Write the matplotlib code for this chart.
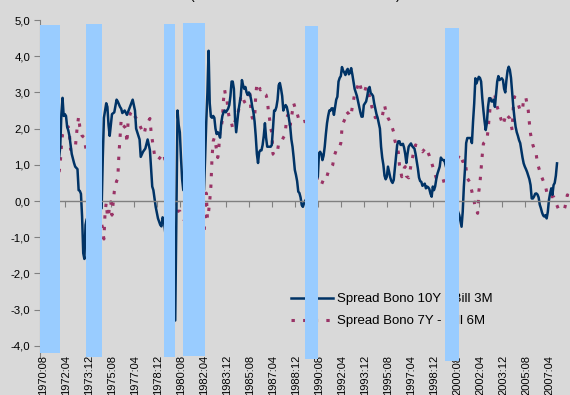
import matplotlib
matplotlib.use("Agg")
import matplotlib.pyplot as plt

plt.rcParams['font.family'] = ['Liberation Sans', 'DejaVu Sans']

# ---------------------------------------------------------------- data
# Spread Bono 10Y - Bill 3M (monthly, percentage points)
spread_10y_3m = [
    ("1971-10", 1.2), ("1971-11", 1.5), ("1971-12", 2.4), ("1972-01", 2.85), ("1972-02", 2.35),
    ("1972-03", 2.4), ("1972-04", 2.35), ("1972-05", 2.05), ("1972-06", 1.95), ("1972-07", 1.8),
    ("1972-09", 1.3), ("1972-11", 1.05), ("1972-12", 0.95), ("1973-02", 0.88), ("1973-03", 0.3),
    ("1973-04", 0.28), ("1973-05", 0.2), ("1973-06", -0.43), ("1973-07", -1.44), ("1973-08", -1.6),
    ("1973-09", -0.66), ("1973-10", -0.5),
    ("1974-11", -0.2), ("1974-12", 1.2), ("1975-01", 2.3), ("1975-02", 2.5), ("1975-03", 2.7),
    ("1975-04", 2.6), ("1975-05", 2.1), ("1975-06", 1.8), ("1975-07", 2.1), ("1975-08", 2.4),
    ("1975-10", 2.45), ("1975-12", 2.8), ("1976-01", 2.75), ("1976-03", 2.6), ("1976-04", 2.55),
    ("1976-05", 2.43), ("1976-07", 2.5), ("1976-09", 2.38), ("1976-11", 2.55), ("1977-02", 2.8),
    ("1977-04", 2.5), ("1977-05", 2.0), ("1977-08", 1.7), ("1977-09", 1.22), ("1977-11", 1.36),
    ("1978-01", 1.45), ("1978-03", 1.7), ("1978-05", 1.4), ("1978-07", 0.4), ("1978-08", 0.3),
    ("1978-10", -0.16), ("1978-12", -0.48), ("1979-02", -0.66), ("1979-03", -0.7), ("1979-04", -0.45),
    ("1979-05", -0.5),
    ("1980-03", -3.3), ("1980-04", -0.4), ("1980-05", 2.5), ("1980-06", 2.1), ("1980-07", 1.9),
    ("1980-08", 1.2), ("1980-09", 0.6), ("1980-10", 0.3),
    ("1982-04", 0.3), ("1982-05", 1.2), ("1982-06", 2.2), ("1982-07", 3.0), ("1982-08", 4.15),
    ("1982-09", 2.7), ("1982-10", 2.33), ("1982-11", 2.3), ("1982-12", 2.35), ("1983-01", 2.3),
    ("1983-02", 2.0), ("1983-03", 1.85), ("1983-04", 1.9), ("1983-05", 1.85), ("1983-06", 1.75),
    ("1983-07", 2.15), ("1983-08", 2.35), ("1983-09", 2.45), ("1983-10", 2.5), ("1983-11", 2.45),
    ("1983-12", 2.5), ("1984-01", 2.55), ("1984-02", 2.65), ("1984-03", 2.9), ("1984-04", 3.3),
    ("1984-05", 3.3), ("1984-06", 3.1), ("1984-07", 2.3), ("1984-08", 1.9), ("1984-09", 2.2),
    ("1984-10", 2.5), ("1984-11", 2.7), ("1984-12", 2.9), ("1985-01", 3.34), ("1985-02", 3.2),
    ("1985-03", 3.1), ("1985-04", 3.15), ("1985-05", 3.0), ("1985-06", 2.93), ("1985-07", 3.0),
    ("1985-08", 2.95), ("1985-09", 2.8), ("1985-10", 2.6), ("1985-11", 2.45), ("1985-12", 2.2),
    ("1986-01", 1.8), ("1986-02", 1.3), ("1986-03", 1.05), ("1986-04", 1.35), ("1986-05", 1.4),
    ("1986-06", 1.4), ("1986-07", 1.55), ("1986-08", 1.8), ("1986-09", 2.15), ("1986-10", 1.75),
    ("1986-11", 1.5), ("1986-12", 1.5), ("1987-01", 1.5), ("1987-02", 1.5), ("1987-03", 1.55),
    ("1987-04", 2.0), ("1987-05", 2.5), ("1987-06", 2.5), ("1987-07", 2.6), ("1987-08", 2.8),
    ("1987-09", 3.2), ("1987-10", 3.26), ("1987-11", 3.1), ("1987-12", 2.9), ("1988-01", 2.5),
    ("1988-02", 2.6), ("1988-03", 2.65), ("1988-04", 2.6), ("1988-05", 2.45), ("1988-06", 2.25),
    ("1988-07", 2.05), ("1988-08", 1.7), ("1988-09", 1.5), ("1988-10", 1.2), ("1988-11", 0.86),
    ("1988-12", 0.72), ("1989-01", 0.55), ("1989-02", 0.26), ("1989-03", 0.22), ("1989-04", 0.1),
    ("1989-05", -0.11), ("1989-06", -0.16), ("1989-07", -0.06), ("1989-08", 0.0),
    ("1990-07", 0.67), ("1990-08", 1.32), ("1990-09", 1.36), ("1990-10", 1.3), ("1990-11", 1.13),
    ("1990-12", 1.25), ("1991-01", 1.5), ("1991-02", 1.85), ("1991-03", 2.15), ("1991-04", 2.35),
    ("1991-05", 2.5), ("1991-06", 2.5), ("1991-07", 2.56), ("1991-08", 2.56), ("1991-09", 2.38),
    ("1991-10", 2.6), ("1991-11", 2.8), ("1991-12", 2.88), ("1992-01", 3.3), ("1992-02", 3.4),
    ("1992-03", 3.45), ("1992-04", 3.7), ("1992-05", 3.6), ("1992-06", 3.55), ("1992-07", 3.48),
    ("1992-08", 3.6), ("1992-09", 3.65), ("1992-10", 3.5), ("1992-11", 3.55), ("1992-12", 3.67),
    ("1993-01", 3.5), ("1993-02", 3.3), ("1993-03", 3.1), ("1993-04", 3.0), ("1993-05", 2.9),
    ("1993-06", 2.75), ("1993-07", 2.6), ("1993-08", 2.45), ("1993-09", 2.33), ("1993-10", 2.33),
    ("1993-11", 2.65), ("1993-12", 2.7), ("1994-01", 2.75), ("1994-02", 2.9), ("1994-03", 3.1),
    ("1994-04", 3.15), ("1994-05", 2.98), ("1994-06", 2.95), ("1994-07", 2.9), ("1994-08", 2.7),
    ("1994-09", 2.55), ("1994-10", 2.4), ("1994-11", 2.3), ("1994-12", 2.15), ("1995-01", 2.0),
    ("1995-02", 1.5), ("1995-03", 1.2), ("1995-04", 1.0), ("1995-05", 0.7), ("1995-06", 0.6),
    ("1995-07", 0.67), ("1995-08", 0.95), ("1995-09", 0.8), ("1995-10", 0.65), ("1995-11", 0.55),
    ("1995-12", 0.5), ("1996-01", 0.58), ("1996-02", 0.9), ("1996-03", 1.25), ("1996-04", 1.55),
    ("1996-05", 1.65), ("1996-06", 1.65), ("1996-07", 1.55), ("1996-08", 1.55), ("1996-09", 1.58),
    ("1996-10", 1.48), ("1996-11", 1.3), ("1996-12", 1.05), ("1997-01", 1.3), ("1997-02", 1.5),
    ("1997-03", 1.55), ("1997-04", 1.59), ("1997-05", 1.52), ("1997-06", 1.48), ("1997-07", 1.45),
    ("1997-08", 1.3), ("1997-09", 1.1), ("1997-10", 0.9), ("1997-11", 0.65), ("1997-12", 0.55),
    ("1998-01", 0.53), ("1998-02", 0.42), ("1998-03", 0.45), ("1998-04", 0.48), ("1998-05", 0.35),
    ("1998-06", 0.4), ("1998-07", 0.38), ("1998-08", 0.33), ("1998-09", 0.2), ("1998-10", 0.12),
    ("1998-11", 0.4), ("1998-12", 0.3), ("1999-01", 0.4), ("1999-02", 0.6), ("1999-03", 0.75),
    ("1999-04", 0.85), ("1999-05", 0.95), ("1999-06", 1.2), ("1999-07", 1.15), ("1999-08", 1.13),
    ("1999-09", 1.13), ("1999-10", 1.0),
    ("2000-09", -0.3), ("2000-10", -0.39), ("2000-11", -0.55), ("2000-12", -0.71), ("2001-01", -0.3),
    ("2001-02", 0.4), ("2001-03", 0.9), ("2001-04", 1.6), ("2001-05", 1.74), ("2001-06", 1.74),
    ("2001-07", 1.74), ("2001-08", 1.74), ("2001-09", 1.6), ("2001-10", 2.2), ("2001-11", 2.7),
    ("2001-12", 3.39), ("2002-01", 3.25), ("2002-02", 3.35), ("2002-03", 3.43), ("2002-04", 3.4),
    ("2002-05", 3.3), ("2002-06", 2.85), ("2002-07", 2.5), ("2002-08", 2.2), ("2002-09", 1.96),
    ("2002-10", 2.15), ("2002-11", 2.6), ("2002-12", 2.84), ("2003-01", 2.84), ("2003-02", 2.75),
    ("2003-03", 2.75), ("2003-04", 2.8), ("2003-05", 2.6), ("2003-06", 2.95), ("2003-07", 3.3),
    ("2003-08", 3.45), ("2003-09", 3.34), ("2003-10", 3.37), ("2003-11", 3.39), ("2003-12", 3.34),
    ("2004-01", 3.1), ("2004-02", 3.0), ("2004-03", 3.34), ("2004-04", 3.6), ("2004-05", 3.71),
    ("2004-06", 3.62), ("2004-07", 3.4), ("2004-08", 3.0), ("2004-09", 2.6), ("2004-10", 2.3),
    ("2004-11", 2.05), ("2004-12", 1.9), ("2005-01", 1.8), ("2005-02", 1.68), ("2005-03", 1.6),
    ("2005-04", 1.4), ("2005-05", 1.2), ("2005-06", 1.04), ("2005-07", 0.95), ("2005-08", 0.88),
    ("2005-09", 0.8), ("2005-10", 0.7), ("2005-11", 0.6), ("2005-12", 0.44), ("2006-01", 0.07),
    ("2006-02", 0.07), ("2006-03", 0.12), ("2006-04", 0.2), ("2006-05", 0.21), ("2006-06", 0.18),
    ("2006-07", 0.1), ("2006-08", -0.1), ("2006-09", -0.2), ("2006-10", -0.32), ("2006-11", -0.4),
    ("2006-12", -0.43), ("2007-01", -0.39), ("2007-02", -0.48), ("2007-03", -0.3), ("2007-04", 0.03),
    ("2007-05", 0.21), ("2007-06", 0.35), ("2007-07", 0.17), ("2007-08", 0.44), ("2007-09", 0.5),
    ("2007-10", 0.7), ("2007-11", 1.04),
]

# Spread Bono 7Y - Bill 6M
spread_7y_6m = [
    ("1971-10", 0.8), ("1971-11", 1.04), ("1971-12", 1.5), ("1972-01", 1.85), ("1972-02", 1.95),
    ("1972-04", 2.05), ("1972-06", 2.05), ("1972-07", 1.85), ("1972-08", 1.42), ("1972-10", 1.42),
    ("1972-12", 1.42), ("1973-01", 1.8), ("1973-02", 2.1), ("1973-03", 2.33), ("1973-04", 2.05),
    ("1973-06", 1.8), ("1973-08", 1.75), ("1973-09", 1.5),
    ("1974-11", -0.6), ("1974-12", -0.85), ("1975-01", -1.05), ("1975-02", -0.3), ("1975-03", -0.05),
    ("1975-04", -0.4), ("1975-05", -0.45), ("1975-06", -0.05), ("1975-07", -0.02), ("1975-08", -0.39),
    ("1975-09", -0.05), ("1975-10", 0.26), ("1975-12", 0.55), ("1976-01", 0.6), ("1976-02", 1.27),
    ("1976-03", 1.75), ("1976-04", 2.24), ("1976-05", 2.1), ("1976-07", 2.05), ("1976-08", 2.0),
    ("1976-09", 1.6), ("1976-10", 2.19), ("1976-12", 2.42), ("1977-02", 2.5), ("1977-03", 2.38),
    ("1977-06", 2.24), ("1977-08", 2.1), ("1977-10", 1.96), ("1977-12", 1.85), ("1978-01", 2.0),
    ("1978-02", 2.1), ("1978-05", 2.28), ("1978-06", 1.91), ("1978-09", 1.27), ("1978-12", 1.13),
    ("1979-03", 1.25), ("1979-04", 1.32), ("1979-05", 1.3),
    ("1980-03", -0.3), ("1980-05", -0.28), ("1980-07", -0.28), ("1980-09", -0.45), ("1980-10", -0.5),
    ("1982-04", -1.0), ("1982-05", -0.3), ("1982-06", 0.22), ("1982-07", -0.48), ("1982-08", -0.3),
    ("1982-09", 0.0), ("1982-10", 0.4), ("1982-11", 1.2), ("1982-12", 1.65), ("1983-01", 1.75),
    ("1983-02", 1.6), ("1983-03", 1.4), ("1983-04", 1.2), ("1983-05", 1.5), ("1983-06", 2.0),
    ("1983-07", 2.05), ("1983-08", 2.25), ("1983-09", 2.8), ("1983-10", 3.07), ("1983-11", 2.85),
    ("1983-12", 2.8), ("1984-01", 2.47), ("1984-02", 2.3), ("1984-03", 2.28), ("1984-04", 2.15),
    ("1984-05", 2.0), ("1984-06", 2.1), ("1984-07", 2.2), ("1984-08", 2.33), ("1984-09", 2.33),
    ("1984-10", 2.5), ("1984-11", 2.6), ("1984-12", 2.88), ("1985-01", 2.8), ("1985-02", 2.85),
    ("1985-03", 2.75), ("1985-04", 2.7), ("1985-05", 2.74), ("1985-06", 2.8), ("1985-07", 3.1),
    ("1985-08", 2.93), ("1985-09", 2.4), ("1985-10", 2.3), ("1985-11", 2.25), ("1985-12", 2.24),
    ("1986-01", 2.9), ("1986-02", 3.25), ("1986-03", 3.2), ("1986-04", 3.15), ("1986-05", 3.07),
    ("1986-06", 3.1), ("1986-07", 3.05), ("1986-08", 3.0), ("1986-09", 2.95), ("1986-10", 2.93),
    ("1986-11", 2.8), ("1986-12", 2.5), ("1987-01", 2.28), ("1987-02", 2.0), ("1987-03", 1.9),
    ("1987-04", 1.3), ("1987-05", 1.27), ("1987-06", 1.27), ("1987-07", 1.3), ("1987-08", 1.4),
    ("1987-09", 1.6), ("1987-10", 1.65), ("1987-11", 1.68), ("1987-12", 1.68), ("1988-01", 1.75),
    ("1988-02", 1.8), ("1988-03", 2.0), ("1988-04", 2.3), ("1988-05", 2.38), ("1988-06", 2.2),
    ("1988-07", 2.1), ("1988-08", 2.3), ("1988-09", 2.5), ("1988-10", 2.7), ("1988-11", 2.6),
    ("1988-12", 2.5), ("1989-01", 2.42), ("1989-02", 2.3), ("1989-03", 2.19), ("1989-04", 2.2),
    ("1989-05", 2.2), ("1989-06", 2.19), ("1989-07", 2.2), ("1989-08", 2.2),
    ("1990-07", 0.53), ("1990-08", 0.5), ("1990-10", 0.44), ("1990-12", 0.6), ("1991-02", 0.58),
    ("1991-04", 0.8), ("1991-06", 0.88), ("1991-08", 1.0), ("1991-09", 1.22), ("1991-11", 1.4),
    ("1992-01", 1.41), ("1992-03", 1.6), ("1992-04", 2.0), ("1992-05", 2.15), ("1992-07", 2.3),
    ("1992-08", 2.47), ("1992-10", 2.4), ("1992-11", 2.33), ("1992-12", 2.4), ("1993-01", 2.6),
    ("1993-03", 2.95), ("1993-04", 3.02), ("1993-06", 3.2), ("1993-07", 3.3), ("1993-09", 3.05),
    ("1993-10", 2.98), ("1993-12", 3.05), ("1994-01", 3.16), ("1994-03", 3.0), ("1994-04", 2.88),
    ("1994-06", 2.6), ("1994-07", 2.5), ("1994-09", 2.3), ("1994-11", 2.35), ("1995-01", 2.38),
    ("1995-03", 2.33), ("1995-04", 2.5), ("1995-05", 2.65), ("1995-06", 2.5), ("1995-08", 2.3),
    ("1995-09", 2.24), ("1995-11", 2.1), ("1995-12", 2.0), ("1996-01", 1.9), ("1996-02", 1.67),
    ("1996-05", 1.35), ("1996-06", 1.0), ("1996-08", 0.67), ("1996-10", 0.9), ("1996-11", 0.95),
    ("1996-12", 0.69), ("1997-02", 0.64), ("1997-03", 0.8), ("1997-04", 0.99), ("1997-06", 1.3),
    ("1997-08", 1.55), ("1997-10", 1.5), ("1997-11", 1.46), ("1998-02", 1.36), ("1998-05", 1.48),
    ("1998-08", 1.25), ("1998-11", 0.95), ("1999-02", 0.63), ("1999-06", 0.67), ("1999-08", 0.6),
    ("1999-09", 0.49), ("1999-10", 0.45),
    ("2000-09", 1.2), ("2000-11", 1.3), ("2001-01", 1.09), ("2001-03", 1.13), ("2001-05", 0.63),
    ("2001-07", 0.53), ("2001-09", 0.26), ("2001-10", 0.1), ("2001-11", -0.02), ("2001-12", -0.2),
    ("2002-02", -0.34), ("2002-03", 0.26), ("2002-04", 0.5), ("2002-05", 0.9), ("2002-06", 1.27),
    ("2002-07", 1.59), ("2002-08", 1.62), ("2002-10", 1.66), ("2002-11", 1.96), ("2002-12", 2.3),
    ("2003-01", 2.65), ("2003-02", 2.98), ("2003-05", 2.93), ("2003-06", 2.7), ("2003-08", 2.5),
    ("2003-09", 2.38), ("2003-12", 2.1), ("2004-03", 2.42), ("2004-04", 2.35), ("2004-06", 2.28),
    ("2004-08", 1.96), ("2004-09", 2.6), ("2004-10", 2.88), ("2004-11", 2.84), ("2005-01", 2.7),
    ("2005-03", 2.5), ("2005-05", 2.5), ("2005-06", 2.86), ("2005-08", 2.84), ("2005-10", 2.5),
    ("2005-11", 2.15), ("2005-12", 1.85), ("2006-02", 1.55), ("2006-05", 1.27), ("2006-06", 1.04),
    ("2006-09", 0.72), ("2007-01", 0.4), ("2007-03", 0.12), ("2007-08", 0.12), ("2007-10", -0.05),
    ("2007-12", -0.2), ("2008-03", -0.25), ("2008-05", -0.25), ("2008-06", -0.16), ("2008-08", 0.17),
    ("2008-09", 0.15),
]

# Shaded periods (first month, last month, upper and lower extent)
shade_start = ["1970-06", "1973-10", "1979-06", "1980-10", "1989-08", "1999-10"]
shade_end = ["1971-10", "1974-11", "1980-02", "1982-04", "1990-07", "2000-09"]
shade_top = [4.86, 4.89, 4.89, 4.92, 4.83, 4.78]
shade_bottom = [-4.19, -4.31, -4.31, -4.28, -4.36, -4.42]

tick_labels = ["1970:08", "1972:04", "1973:12", "1975:08", "1977:04", "1978:12",
               "1980:08", "1982:04", "1983:12", "1985:08", "1987:04", "1988:12",
               "1990:08", "1992:04", "1993:12", "1995:08", "1997:04", "1998:12",
               "2000:08", "2002:04", "2003:12", "2005:08", "2007:04"]
y_ticks = [-4, -3, -2, -1, 0, 1, 2, 3, 4, 5]

series_names = ["Spread Bono 10Y - Bill 3M", "Spread Bono 7Y - Bill 6M"]


def month_index(s):
    """Months elapsed since 1970:08 (the first category of the axis)."""
    y, m = int(s[:4]), int(s[5:7])
    return (y - 1970) * 12 + (m - 8)


BG = "#d9d9d9"
NAVY = "#003366"
PLUM = "#993366"
SHADE = "#99ccff"
AXIS_GRAY = "#808080"

fig = plt.figure(figsize=(5.7, 3.95), dpi=100, facecolor=BG)
ax = fig.add_axes([40 / 570, 1 - 356.7 / 395, 530 / 570, 336.7 / 395])
ax.set_facecolor(BG)

# series
bx = [month_index(d) for d, _ in spread_10y_3m]
by = [v for _, v in spread_10y_3m]
rx = [month_index(d) for d, _ in spread_7y_6m]
ry = [v for _, v in spread_7y_6m]

ax.plot(bx, by, color=NAVY, lw=1.8, solid_joinstyle="round", zorder=2.2,
        label=series_names[0])
ax.plot(rx, ry, color=PLUM, lw=2.2, linestyle=(0, (1.1, 2.7)), dash_capstyle="butt",
        zorder=2.1, label=series_names[1])

# shaded periods drawn above everything in the plot
for s, e, top, bot in zip(shade_start, shade_end, shade_top, shade_bottom):
    i0, i1 = month_index(s), month_index(e)
    bars = ax.bar(i0 - 0.5, top - bot, bottom=bot, width=i1 - i0 + 1, align="edge",
                  color=SHADE, linewidth=0, zorder=6)
    for p in bars:
        p.set_clip_on(False)

ax.set_xlim(-2.6, 458.3)
ax.set_ylim(-4.3, 5.0)

# axes styling
for side in ("top", "right"):
    ax.spines[side].set_visible(False)
ax.spines["left"].set_color(AXIS_GRAY)
ax.spines["left"].set_bounds(-4.3, 5.0)
ax.spines["bottom"].set_position(("data", 0))
ax.spines["bottom"].set_color(AXIS_GRAY)
ax.spines["bottom"].set_linewidth(1.0)

tick_pos = [month_index(t.replace(":", "-")) for t in tick_labels]
ax.set_xticks([p - 0.5 for p in tick_pos])
ax.tick_params(axis="x", direction="out", length=4, width=0.8, color=AXIS_GRAY,
               labelbottom=False)

ax.set_yticks(y_ticks)
ax.set_yticklabels([f"{v:.1f}".replace(".", ",") for v in y_ticks])
ax.tick_params(axis="y", direction="out", length=4, width=0.8, color=AXIS_GRAY,
               labelsize=8.2, pad=3, labelcolor="#000000")

# category labels along the bottom edge of the plot area
for p, lab in zip(tick_pos, tick_labels):
    ax.text(p, 0.005, lab, transform=ax.get_xaxis_transform(), rotation=90,
            ha="center", va="top", fontsize=8, color="#000000", zorder=3,
            clip_on=False)

# legend (sits underneath the shaded periods)
leg = ax.legend(loc="upper left", bbox_to_anchor=(291 / 570, 1 - 293 / 395),
                bbox_transform=fig.transFigure, frameon=False, fontsize=9.5,
                handlelength=3.2, handletextpad=0.3, labelspacing=0.75,
                borderpad=0, borderaxespad=0)
leg.set_zorder(4)

# title row (only its lower edge falls inside the canvas)
fig.text(192 / 570, 1 - 2.5 / 395, "(", fontsize=10, ha="center", va="bottom")
fig.text(398 / 570, 1 - 2.5 / 395, ")", fontsize=10, ha="center", va="bottom")

fig.savefig("out.png", dpi=100, facecolor=BG)
